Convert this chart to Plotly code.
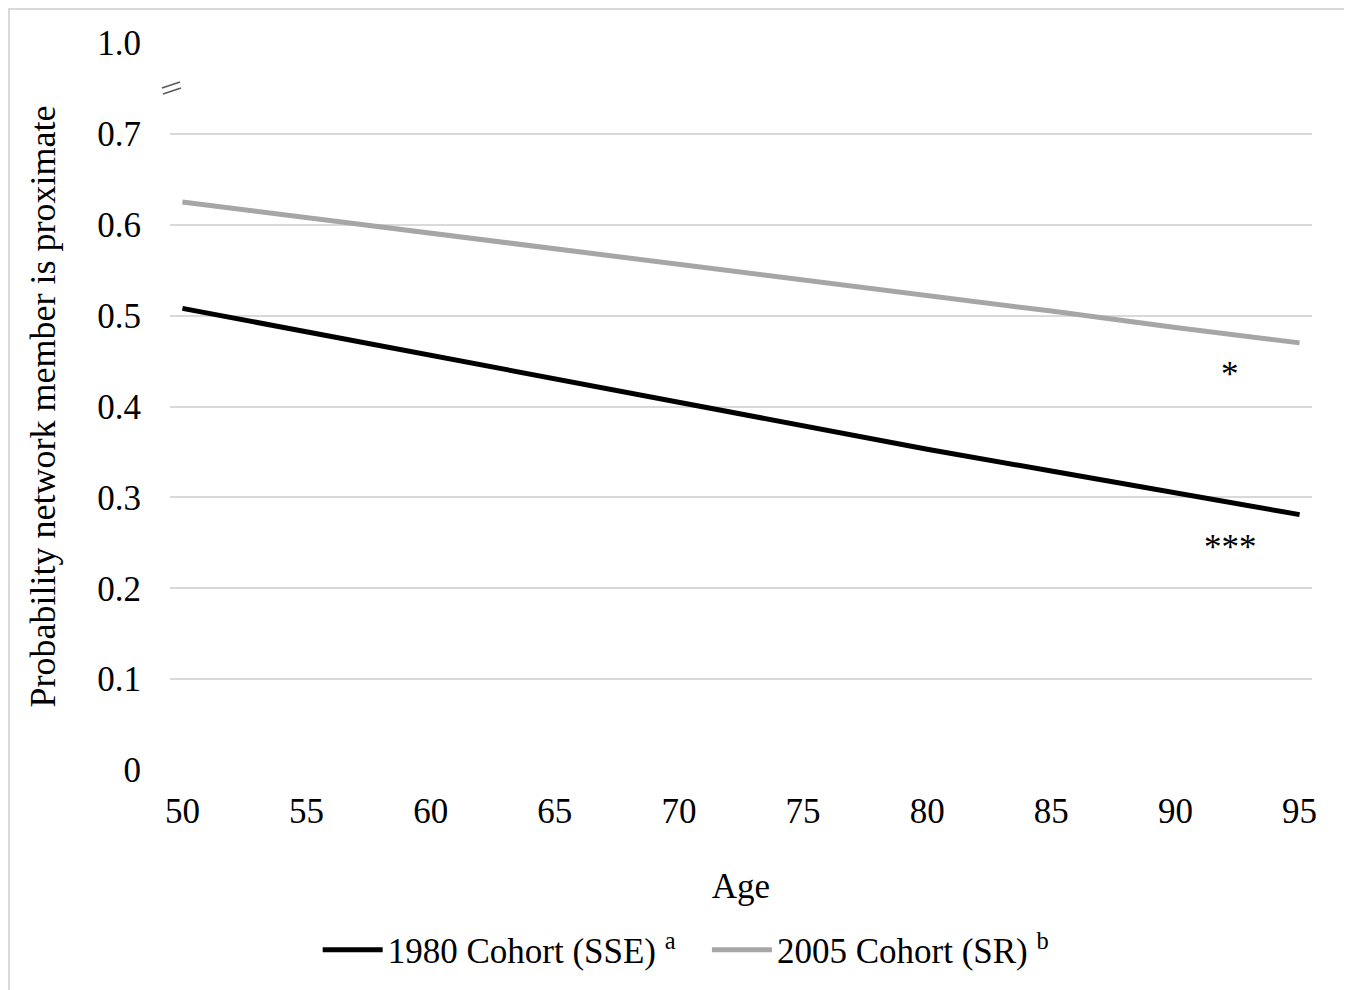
import plotly.graph_objects as go

ages = [50, 55, 60, 65, 70, 75, 80, 85, 90, 95]
cohort_1980 = [0.508, 0.482, 0.456, 0.430, 0.404, 0.378, 0.353, 0.329, 0.305, 0.281]
cohort_2005 = [0.625, 0.608, 0.591, 0.574, 0.557, 0.540, 0.522, 0.505, 0.487, 0.470]
y_tickvals = [0, 0.1, 0.2, 0.3, 0.4, 0.5, 0.6, 0.7, 0.8]
y_ticktext = ["0", "0.1", "0.2", "0.3", "0.4", "0.5", "0.6", "0.7", "1.0"]
x_tickvals = [50, 55, 60, 65, 70, 75, 80, 85, 90, 95]

FONT = "Liberation Serif, Times New Roman, serif"
FS = 35

# page body has an 8px margin, so margins are offset accordingly
L, T = 162, 35
W, H = 1352, 990
R = 8 + W - 1312
B = 8 + H - 770
PW = W - L - R
PH = H - T - B

fig = go.Figure()
fig.add_trace(go.Scatter(x=ages, y=cohort_1980, mode="lines",
                         name="1980 Cohort (SSE) <sup>a</sup>\u00a0\u00a0\u00a0",
                         line=dict(color="#000000", width=5)))
fig.add_trace(go.Scatter(x=ages, y=cohort_2005, mode="lines",
                         name="2005 Cohort (SR) <sup>b</sup>",
                         line=dict(color="#a6a6a6", width=5)))

fig.add_annotation(x=92.2, y=0.435, text="*", showarrow=False,
                   font=dict(family=FONT, size=FS, color="#000"), xref="x", yref="y")
fig.add_annotation(x=92.2, y=0.245, text="***", showarrow=False,
                   font=dict(family=FONT, size=FS, color="#000"), xref="x", yref="y")

# axis break mark (two short parallel strokes)
def px2paper(x):
    return (x - 170) / PW

def py2y(y):
    return (770 - y) / PH * 0.8

for (xa, ya, xb, yb) in [(162, 88, 180, 82), (163, 94, 181, 88)]:
    fig.add_shape(type="line", xref="paper", yref="y",
                  x0=px2paper(xa), y0=py2y(ya), x1=px2paper(xb), y1=py2y(yb),
                  line=dict(color="#595959", width=1.5))

# outer border
fig.add_shape(type="rect", xref="paper", yref="paper",
              x0=px2paper(9), x1=px2paper(1347),
              y0=(770 - 1010) / PH, y1=(770 - 9) / PH,
              line=dict(color="#d9d9d9", width=2), fillcolor="rgba(0,0,0,0)", layer="below")

fig.update_layout(
    width=W, height=H,
    margin=dict(l=L, r=R, t=T, b=B),
    paper_bgcolor="white", plot_bgcolor="white",
    font=dict(family=FONT, size=FS, color="#000"),
    showlegend=True,
    legend=dict(orientation="h", x=0.452, xanchor="center", y=-0.207, yanchor="top",
                font=dict(family=FONT, size=FS), itemwidth=60, traceorder="normal"),
    xaxis=dict(range=[49.5, 95.5], tickvals=x_tickvals, showgrid=False, zeroline=False,
               showline=False, ticks="", tickfont=dict(size=FS), ticklabelstandoff=17,
               title=dict(text="Age", font=dict(size=FS), standoff=43)),
    yaxis=dict(range=[0, 0.8], tickvals=y_tickvals, ticktext=y_ticktext,
               showgrid=True, gridcolor="#d9d9d9", gridwidth=2, zeroline=False,
               showline=False, ticks="", tickfont=dict(size=FS), ticklabelstandoff=28,
               title=dict(text="Probability network member is proximate",
                          font=dict(size=36), standoff=30)),
)

fig.write_html("out.html")
